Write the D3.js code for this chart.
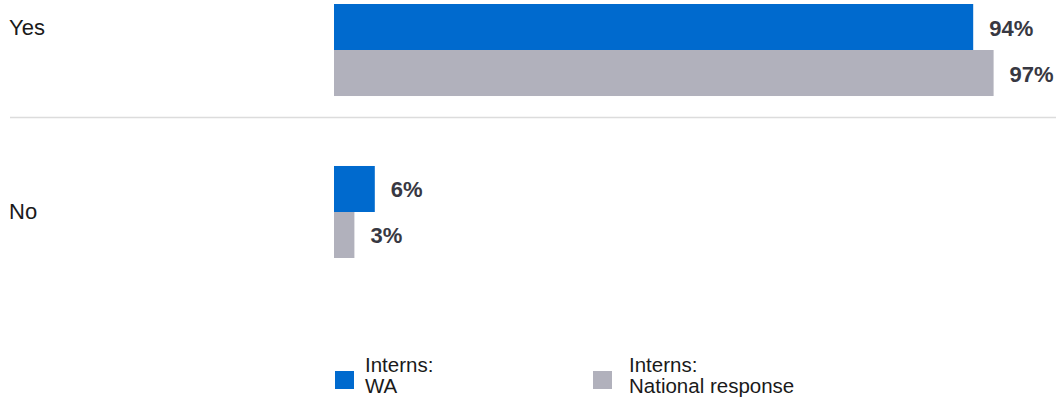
<!DOCTYPE html>
<html>
<head>
<meta charset="utf-8">
<script src="https://cdn.jsdelivr.net/npm/d3@7"></script>
<style>
  html, body { margin: 0; padding: 0; background: #fff; }
  svg { display: block; font-family: "Liberation Sans", Arial, sans-serif; }
</style>
</head>
<body>
<svg id="chart" width="1056" height="403"></svg>
<script>
const categories = ["Yes", "No"];
const seriesNames = ["Interns:\nWA", "Interns:\nNational response"];
const waValues = [94, 6];
const nationalValues = [97, 3];
const colors = ["#006ACE", "#B1B1BC"];

const svg = d3.select("#chart");
const W = 1056;

const x = d3.scaleLinear().domain([0, 100]).range([334, 1014]);
const y = d3.scaleBand().domain(categories).range([4, 258]).paddingInner(0.432).paddingOuter(0);
const series = [waValues, nationalValues];
const barH = y.bandwidth() / series.length;

// separator lines between groups
categories.slice(0, -1).forEach((c, i) => {
  const bottom = y(c) + y.bandwidth();
  const yy = bottom + 0.3 * (y(categories[i + 1]) - bottom);
  svg.append("line")
    .attr("x1", 10).attr("x2", W)
    .attr("y1", Math.round(yy) + 0.5).attr("y2", Math.round(yy) + 0.5)
    .attr("stroke", "#dcdcdc").attr("stroke-width", 1.5);
});

categories.forEach((c, i) => {
  const g = svg.append("g");
  const top = y(c);
  series.forEach((vals, s) => {
    const by = top + s * barH;
    g.append("rect")
      .attr("x", x(0)).attr("y", by)
      .attr("width", x(vals[i]) - x(0)).attr("height", barH)
      .attr("fill", colors[s]);
    g.append("text")
      .attr("x", x(vals[i]) + 16).attr("y", by + barH / 2 + 1)
      .attr("dominant-baseline", "central")
      .attr("font-size", 22).attr("font-weight", "bold")
      .attr("fill", "#383842")
      .text(vals[i] + "%");
  });
  const ly = i === 0 ? top + barH / 2 : top + barH;
  g.append("text")
    .attr("x", 9).attr("y", ly)
    .attr("dominant-baseline", "central")
    .attr("font-size", 22).attr("fill", "#1a1a1a")
    .text(c);
});

// legend
const legendX = [335, 593];
const legendTextX = [365, 629];
seriesNames.forEach((name, s) => {
  const lg = svg.append("g");
  lg.append("rect").attr("x", legendX[s]).attr("y", 371).attr("width", 19).attr("height", 18).attr("fill", colors[s]);
  name.split("\n").forEach((t, k) => {
    lg.append("text")
      .attr("x", legendTextX[s]).attr("y", 372 + k * 21)
      .attr("font-size", 20.5).attr("fill", "#1a1a1a")
      .text(t);
  });
});
</script>
</body>
</html>
